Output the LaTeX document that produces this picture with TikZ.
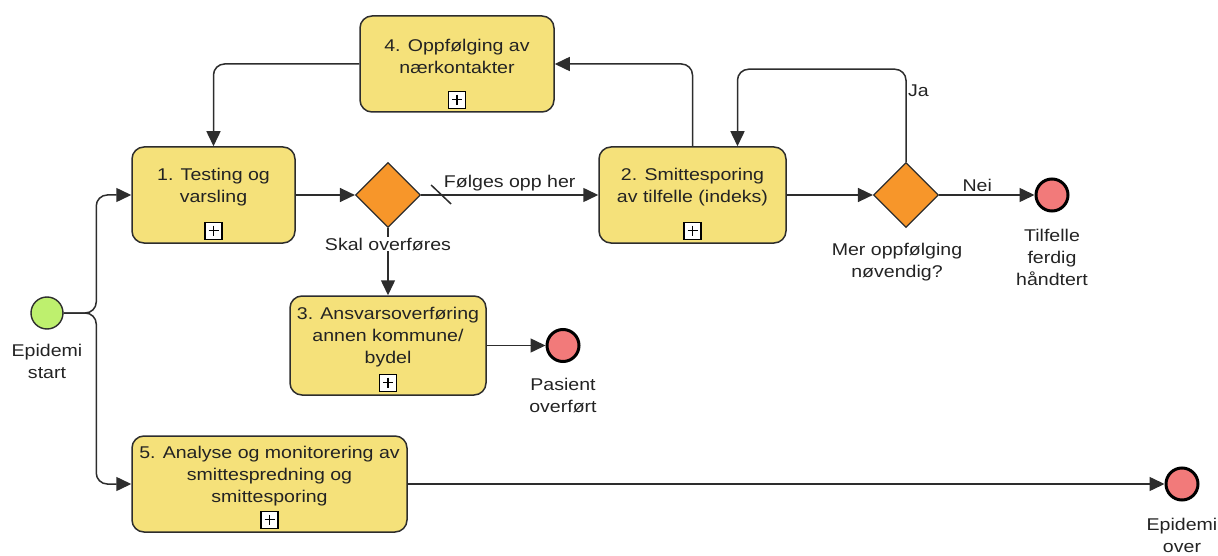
\documentclass[tikz,border=0pt]{standalone}
\usepackage{fontspec}
\setmainfont{Liberation Sans}[FakeStretch=1.15]
\usetikzlibrary{arrows.meta,shapes.geometric,calc}

\definecolor{taskfill}{RGB}{245,225,122}
\definecolor{gatefill}{RGB}{247,150,42}
\definecolor{startfill}{RGB}{190,240,110}
\definecolor{endfill}{RGB}{242,122,122}
\definecolor{edge}{RGB}{45,45,45}
\definecolor{ink}{RGB}{35,35,35}

\tikzset{
  task/.style={draw=edge, fill=taskfill, line width=1.5pt, rounded corners=12pt,
    inner sep=0pt, minimum width=#1},
  task/.default=180pt,
  tasktext/.style={align=center, text=ink, yshift=8pt},
  submarker/.style={draw=black, fill=white, line width=1.1pt, inner sep=0pt,
    minimum size=17pt, anchor=south,
    path picture={
      \draw[line width=1.3pt] ($(path picture bounding box.center)+(-5,0)$) -- ++(10,0);
      \draw[line width=1.3pt] ($(path picture bounding box.center)+(0,-5)$) -- ++(0,10);
    }},
  gateway/.style={diamond, aspect=1, draw=edge, fill=gatefill, line width=1.2pt,
    inner sep=0pt, minimum width=65pt, minimum height=65pt},
  startev/.style={circle, draw=edge, fill=startfill, line width=1.4pt,
    inner sep=0pt, minimum size=32pt},
  endev/.style={circle, draw=black, fill=endfill, line width=3pt,
    inner sep=0pt, minimum size=32pt},
  flow/.style={draw=edge, line width=1.5pt, rounded corners=11pt,
    -{Triangle[length=15pt,width=14pt]}},
  plain/.style={draw=edge, line width=1.5pt},
  caption/.style={align=center, text=ink, anchor=north, inner sep=0pt},
}

\begin{document}
\begin{tikzpicture}[x=1pt, y=-1pt, font=\fontsize{17}{22}\selectfont]
\useasboundingbox (0,0) rectangle (1218,556);

% tasks (collapsed sub-processes)
\node[task=163pt, minimum height=96pt,
  label={[tasktext]center:{1. Testing og\\varsling}}] (t1) at (213.5,195) {};
\node[task=194pt, minimum height=96pt,
  label={[tasktext]center:{4. Oppfølging av\\nærkontakter}}] (t4) at (457,64) {};
\node[task=187pt, minimum height=96pt,
  label={[tasktext]center:{2. Smittesporing\\av tilfelle (indeks)}}] (t2) at (692.5,195) {};
\node[task=196pt, minimum height=99pt,
  label={[tasktext]center:{3. Ansvarsoverføring\\annen kommune/\\bydel}}] (t3) at (388,345.5) {};
\node[task=275pt, minimum height=96pt,
  label={[tasktext]center:{5. Analyse og monitorering av\\smittespredning og\\smittesporing}}] (t5) at (269.5,484) {};

% sub-process markers
\node[submarker, yshift=4pt] (m1) at (t1.south) {};
\node[submarker, yshift=4pt] (m4) at (t4.south) {};
\node[submarker, yshift=4pt] (m2) at (t2.south) {};
\node[submarker, yshift=4pt] (m3) at (t3.south) {};
\node[submarker, yshift=4pt] (m5) at (t5.south) {};

% gateways
\node[gateway] (g1) at (388,195) {};
\node[gateway] (g2) at (906,195) {};

% events
\node[startev] (s) at (47,313) {};
\node[endev] (e1) at (563,345.5) {};
\node[endev] (e2) at (1052,195) {};
\node[endev] (e3) at (1182,484) {};

% event and gateway captions
\node[caption] (cs) at ($(s.south)+(0,14)$) {Epidemi\\start};
\node[caption] (ce1) at ($(e1.south)+(0,15)$) {Pasient\\overført};
\node[caption] (ce2) at ($(e2.south)+(0,16)$) {Tilfelle\\ferdig\\håndtert};
\node[caption] (cg2) at ($(g2.south)+(-9,15)$) {Mer oppfølging\\nøvendig?};
\node[caption] (ce3) at ($(e3.south)+(0,16)$) {Epidemi\\over};

% sequence flows
\draw[flow] (s.east) -| ([xshift=-35pt]t1.west) -- (t1.west);
\draw[flow] (s.east) -| ([xshift=-35pt]t5.west) -- (t5.west);
\draw[flow] (t1.east) -- (g1.west);
\draw[flow] (g1.east) -- node[above, text=ink, inner sep=3pt] (lf) {Følges opp her} (t2.west);
\draw[plain] ([shift={(10,-10)}]g1.east) -- ([shift={(30,9)}]g1.east);
\draw[flow] (g1.south) -- (t3.north);
\node[fill=white, text=ink, inner sep=1pt] (ls) at ($(g1.south)+(0,16)$) {Skal overføres};
\draw[flow] (t3.east) -- (e1.west);
\draw[flow] (t2.east) -- (g2.west);
\draw[flow] (g2.east) -- node[above, pos=0.4, text=ink, inner sep=3pt] (ln) {Nei} (e2.west);
\coordinate (jaT) at ([xshift=45pt]t2.north);
\draw[flow] (g2.north) |- ([yshift=77pt]jaT) -- (jaT);
\node[right, text=ink, inner sep=2pt] (lj) at ($(g2.north)+(0,-71)$) {Ja};
\draw[flow] (t2.north) |- (t4.east);
\draw[flow] (t4.west) -| (t1.north);
\draw[flow] (t5.east) -- (e3.west);
\end{tikzpicture}
\end{document}
